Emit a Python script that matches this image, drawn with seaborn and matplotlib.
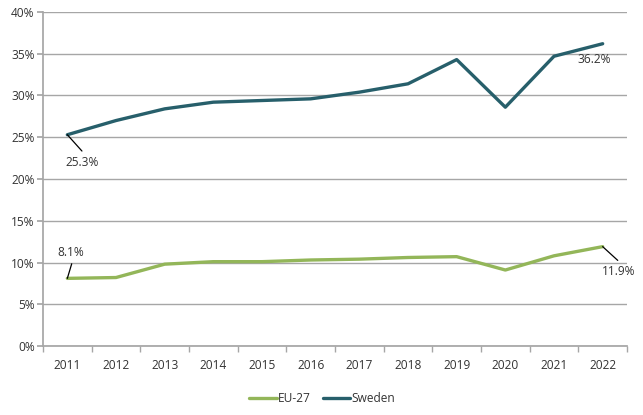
import matplotlib
matplotlib.use("Agg")
import matplotlib.pyplot as plt
import seaborn as sns
import pandas as pd
import numpy as np

years = ["2011", "2012", "2013", "2014", "2015", "2016", "2017", "2018", "2019", "2020", "2021", "2022"]
eu27 = [8.1, 8.2, 9.8, 10.1, 10.1, 10.3, 10.4, 10.6, 10.7, 9.1, 10.8, 11.9]
sweden = [25.3, 27.0, 28.4, 29.2, 29.4, 29.6, 30.4, 31.4, 34.3, 28.6, 34.7, 36.2]
series_names = ["EU-27", "Sweden"]
colors = {"EU-27": "#93b659", "Sweden": "#275f6b"}

rows = []
for i, y in enumerate(years):
    rows.append({"idx": i, "year": y, "series": "EU-27", "value": eu27[i]})
    rows.append({"idx": i, "year": y, "series": "Sweden", "value": sweden[i]})
df = pd.DataFrame(rows)

sns.set_theme(style="white")
plt.rcParams['font.family'] = ['Open Sans', 'DejaVu Sans']
FS = 8.6

fig = plt.figure(figsize=(6.43, 4.15), dpi=100)
ax = fig.add_axes([43/643, 1 - 346/415, (627-43)/643, (346-12)/415])

sns.lineplot(data=df, x="idx", y="value", hue="series", hue_order=series_names,
             palette=colors, linewidth=2.4, ax=ax, legend=True)

ax.set_xlim(-0.5, len(years) - 0.5)
ax.set_ylim(0, 40)
ax.set_yticks(np.arange(0, 41, 5))
ax.set_yticklabels([f"{v}%" for v in range(0, 41, 5)], fontsize=FS, color="#333333")
ax.set_xticks(range(len(years)))
ax.set_xticklabels(years, fontsize=FS, color="#333333")
ax.set_xticks(np.arange(-0.5, len(years) + 0.5, 1), minor=True)
ax.set_xlabel("")
ax.set_ylabel("")
ax.grid(axis="y", color="#a6a6a6", linewidth=1)
ax.set_axisbelow(True)
for s in ["top", "right"]:
    ax.spines[s].set_visible(False)
ax.spines["left"].set_color("#a6a6a6")
ax.spines["bottom"].set_color("#a6a6a6")
ax.tick_params(axis="x", which="major", length=0, pad=9)
ax.tick_params(axis="x", which="minor", length=4, color="#a6a6a6", bottom=True)
ax.tick_params(axis="y", length=4, color="#a6a6a6", left=True, pad=2)

# annotations: (series value, index, leader end (x, y) or None, text center (x, y))
line_kw = dict(arrowstyle="-", color="black", lw=0.9, shrinkA=0, shrinkB=0)
labels = [
    (sweden[0], 0, (0.30, 23.35), (0.30, 22.0)),
    (sweden[-1], 11, None, (10.82, 34.35)),
    (eu27[0], 0, (0.09, 9.85), (0.06, 11.22)),
    (eu27[-1], 11, (11.31, 10.25), (11.32, 8.9)),
]
for val, idx, lead, tpos in labels:
    if lead is not None:
        ax.annotate("", xy=(idx, val), xytext=lead, arrowprops=line_kw)
    ax.text(tpos[0], tpos[1], f"{val}%", ha="center", va="center", fontsize=FS, color="#333333")

leg = ax.legend(loc="upper center", bbox_to_anchor=(0.478, -0.105), ncol=2, frameon=False,
                fontsize=FS, handlelength=2.3, handletextpad=0.1, columnspacing=1.0)
for t in leg.get_texts():
    t.set_color("#333333")

fig.savefig("out.png", dpi=100, facecolor="white")
